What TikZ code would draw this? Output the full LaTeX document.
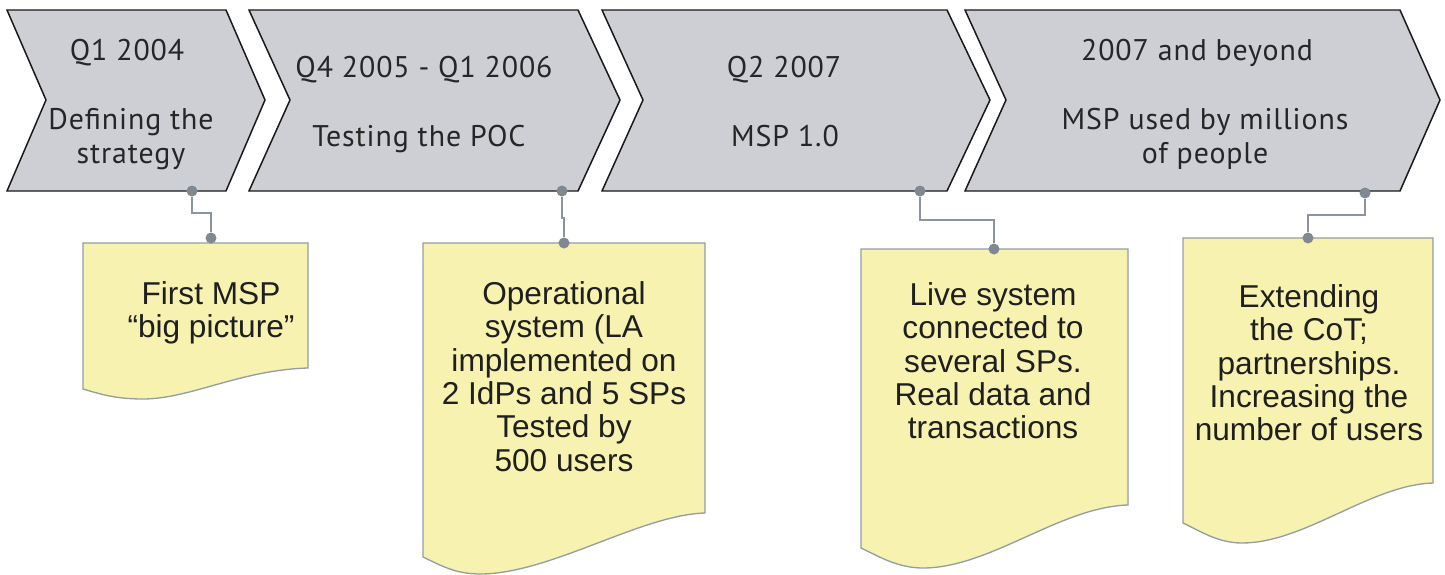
\documentclass[tikz,border=0pt]{standalone}
\usepackage{fontspec}
\setmainfont{Liberation Sans}
\newfontfamily\phasefont[LetterSpace=3]{PT Sans}
\usetikzlibrary{positioning,calc}
\definecolor{PhaseGray}{RGB}{205,207,213}
\definecolor{NoteYellow}{RGB}{247,242,176}
\definecolor{NoteEdge}{RGB}{148,156,164}
\definecolor{PinGray}{RGB}{128,136,146}
\tikzset{
  phase/.style={fill=PhaseGray,draw=black!90,line width=0.85pt,line join=miter},
  phasetext/.style={font=\phasefont\fontsize{17}{19}\selectfont,align=center,inner sep=0pt,text=black!85},
  note/.style={fill=NoteYellow,draw=NoteEdge,line width=0.75pt},
  notetext/.style={font=\fontsize{18}{19}\selectfont,align=center,inner sep=0pt,text=black!88},
  pindot/.style={circle,fill=PinGray,inner sep=0pt,minimum size=0.22cm},
  link/.style={draw=PinGray!90,line width=0.85pt}
}

\begin{document}
\begin{tikzpicture}[x=0.02cm,y=-0.02cm]
\useasboundingbox (0,0) rectangle (1445,575);

% the four phases
\draw[phase] (7,10) -- (226,10) -- (265,100) -- (226,191) -- (7,191) -- (46,100) -- cycle;
\draw[phase] (249,10) -- (578,10) -- (620,100) -- (578,191) -- (249,191) -- (290,100) -- cycle;
\draw[phase] (602,10) -- (947,10) -- (990,100) -- (947,191) -- (602,191) -- (643,100) -- cycle;
\draw[phase] (965,10) -- (1400,10) -- (1440,100) -- (1400,191) -- (965,191) -- (1006,100) -- cycle;

% base of a two-line title is its last line
\node[phasetext,anchor=base] (when1) at (127,60) {Q1 2004};
\node[phasetext,anchor=base] (what1) at (131,163) {Defining the\\strategy};
\node[phasetext,anchor=base] (when2) at (424,77) {Q4 2005 - Q1 2006};
\node[phasetext,anchor=base] (what2) at (419,146) {Testing the POC};
\node[phasetext,anchor=base] (when3) at (784,77) {Q2 2007};
\node[phasetext,anchor=base] (what3) at (785,146) {MSP 1.0};
\node[phasetext,anchor=base] (when4) at (1197,60) {2007 and beyond};
\node[phasetext,anchor=base] (what4) at (1205,163) {MSP used by millions\\of people};

% sticky notes with a wavy lower edge
\draw[note] (83,243) -- (308,243) -- (308,368) .. controls (240,370) and (190,399) .. (143,399)
  .. controls (115,399) and (100,394) .. (83,389) -- cycle;
\draw[note] (423,243) -- (705,243) -- (705,513) .. controls (640,515) and (550,574) .. (480,574)
  .. controls (455,574) and (440,565) .. (423,557) -- cycle;
\draw[note] (861,249) -- (1128,249) -- (1128,505) .. controls (1060,507) and (990,568) .. (923,568)
  .. controls (898,568) and (880,557) .. (861,548) -- cycle;
\draw[note] (1183,238) -- (1433,238) -- (1433,483) .. controls (1370,485) and (1305,543) .. (1242,543)
  .. controls (1218,543) and (1200,531) .. (1183,523) -- cycle;

\node[notetext,anchor=north] (t1) at (211,281) {First MSP\\``big picture''};
\node[notetext,anchor=north] (t2) at (564,281) {Operational\\system (LA\\implemented on\\2 IdPs and 5 SPs\\Tested by\\500 users};
\node[notetext,anchor=north] (t3) at (993,282) {Live system\\connected to\\several SPs.\\Real data and\\transactions};
\node[notetext,anchor=north] (t4) at (1309,284) {Extending\\the CoT;\\partnerships.\\Increasing the\\number of users};

% pins and their links
\node[pindot] (p1) at (192,191) {};
\node[pindot] (n1) at (211,238) {};
\node[pindot] (p2) at (562,191) {};
\node[pindot] (n2) at (564,243) {};
\node[pindot] (p3) at (920,191) {};
\node[pindot] (n3) at (994,249) {};
\node[pindot] (p4) at (1365,193) {};
\node[pindot] (n4) at (1308,238) {};

\draw[link] (p1) -- ++(0,22) -| (n1);
\draw[link] (p2) -- ++(0,27) -| (n2);
\draw[link] (p3) -- ++(0,29) -| (n3);
\draw[link] (p4) -- ++(0,22) -| (n4);
\end{tikzpicture}
\end{document}
